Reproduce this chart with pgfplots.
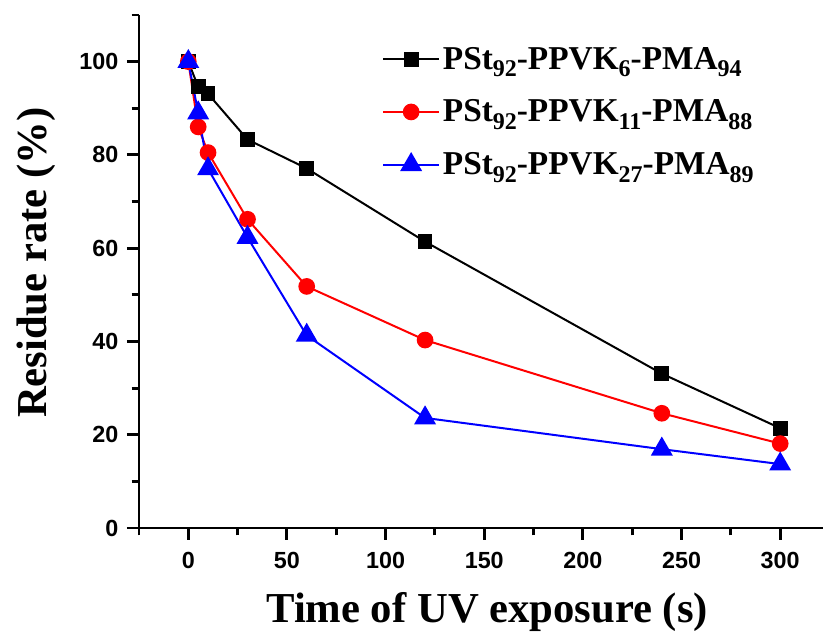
\documentclass[border=0pt]{standalone}
\usepackage{pgfplots}
\pgfplotsset{compat=1.18}
\usepackage{fontspec}
\setmainfont{Liberation Serif}
\newfontfamily\arial{Liberation Sans}
\newcommand\sub[1]{\raisebox{-5.5pt}{\fontsize{18}{20}\selectfont #1}}
\begin{document}
\begin{tikzpicture}
\begin{axis}[
  name=ax,
  scale only axis,
  width=513pt, height=384.75pt,
  xmin=-25, xmax=321.7, ymin=0, ymax=110,
  axis lines=left,
  axis line style={-, line width=2.2pt},
  xtick={0,50,...,300}, ytick={0,20,...,100},
  minor xtick={-25,25,75,...,275}, minor ytick={10,30,...,110},
  tick align=outside,
  major tick length=9pt, minor tick length=5.5pt,
  every tick/.style={black, line width=2.2pt},
  /pgf/number format/assume math mode=true,
  ticklabel style={font=\arial\bfseries\fontsize{17.5}{19}\selectfont},
  xticklabel style={yshift=-6pt},
  yticklabel style={xshift=-3pt},
  xlabel={Time of UV exposure (s)},
  ylabel={Residue rate (\%)},
  every axis x label/.style={at={(axis description cs:0.509,-0.184)}, anchor=base, font=\bfseries\fontsize{32}{36}\selectfont},
  every axis y label/.style={at={(axis description cs:-0.1345,0.517)}, anchor=base, rotate=90, font=\bfseries\fontsize{32}{36}\selectfont},
  legend style={at={(axis description cs:0.355,0.943)}, anchor=north west, draw=none, fill=none,
    font=\bfseries\fontsize{25}{28}\selectfont, row sep=17.5pt, inner sep=0pt},
  legend cell align=left,
  legend image code/.code={\draw[#1, mark repeat=2, mark phase=2] plot coordinates {(0cm,0cm) (0.74cm,0cm) (1.48cm,0cm)};},
  clip=false,
]
\addplot[black, line width=1.5pt, mark=square*, mark size=4.8pt] coordinates {
 (0,100) (5,94.6) (10,93.1) (30,83.3) (60,77.1) (120,61.4) (240,33.1) (300,21.4)};
\addplot[red, line width=1.5pt, mark=*, mark size=5.5pt] coordinates {
 (0,100) (5,86.0) (10,80.5) (30,66.2) (60,51.8) (120,40.3) (240,24.6) (300,18.1)};
\addplot[blue, line width=1.5pt, mark=triangle*, mark size=8pt] coordinates {
 (0,100) (5,89.0) (10,77.0) (30,62.3) (60,41.3) (120,23.6) (240,16.9) (300,13.7)};
\legend{PSt\sub{92}-PPVK\sub{6}-PMA\sub{94},
 PSt\sub{92}-PPVK\sub{11}-PMA\sub{88},
 PSt\sub{92}-PPVK\sub{27}-PMA\sub{89}}
\end{axis}
\pgfresetboundingbox
\path ([xshift=-104.25pt,yshift=-80.5pt]ax.south west) rectangle ([yshift=11.25pt]ax.north east);
\end{tikzpicture}
\end{document}
